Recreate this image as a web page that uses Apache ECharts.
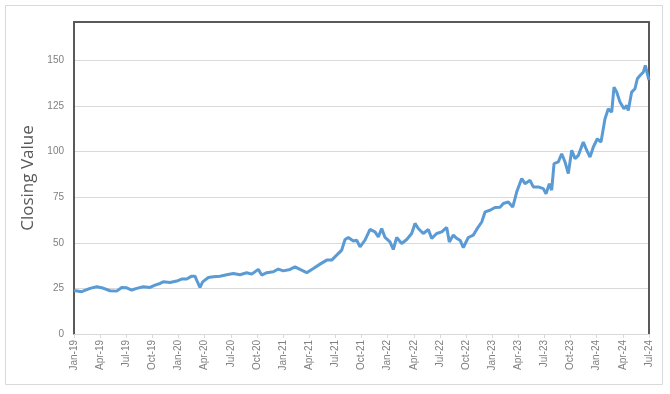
<!DOCTYPE html>
<html>
<head>
<meta charset="utf-8">
<script src="https://cdn.jsdelivr.net/npm/echarts@6/dist/echarts.min.js"></script>
<style>html,body{margin:0;padding:0;background:#fff}#c{width:670px;height:394px}</style>
</head>
<body>
<div id="c"></div>
<script>
// x positions are months since Jan-2019
var monthPos = [0,0.11,0.88,1.84,2.61,3.18,4.13,4.90,5.48,6.05,6.62,7.20,7.95,8.72,9.30,9.87,10.25,11.02,11.79,12.36,12.94,13.51,13.89,14.08,14.46,14.77,15.42,15.99,16.76,17.53,18.29,19.05,19.82,20.40,21.15,21.55,22.12,22.88,23.45,24.02,24.79,25.37,25.94,26.71,27.47,28.24,29.01,29.58,30.15,30.73,31.11,31.49,32.06,32.45,32.83,33.40,33.98,34.55,34.93,35.32,35.70,36.27,36.65,37.04,37.61,38.19,38.76,39.14,39.52,40.09,40.67,41.06,41.63,42.21,42.78,43.08,43.54,43.93,44.31,44.69,45.26,45.83,46.22,46.80,47.18,47.75,48.32,48.90,49.28,49.85,50.36,50.81,51.39,51.77,52.34,52.72,53.29,53.87,54.18,54.56,54.83,55.10,55.59,55.98,56.36,56.74,57.13,57.51,57.89,58.46,58.85,59.23,59.61,60.07,60.49,60.95,61.33,61.72,61.98,62.29,62.67,63.13,63.44,63.62,64.01,64.39,64.66,64.97,65.35,65.58,65.81,66.0];
var closing = [23.8,24.1,23.2,25.0,25.9,25.4,23.7,23.5,25.5,25.3,24.1,25.0,25.9,25.5,26.8,27.7,28.6,28.2,29.0,30.1,30.1,31.7,31.7,29.5,25.5,28.6,31.0,31.4,31.7,32.5,33.2,32.5,33.6,32.8,35.4,32.3,33.6,34.1,35.6,34.6,35.4,36.8,35.4,33.6,35.9,38.3,40.5,40.5,43.2,46.0,51.8,52.9,51.0,51.4,47.8,51.4,57.3,56.0,53.2,57.8,52.9,50.5,46.3,52.9,49.6,51.8,55.1,60.6,57.8,55.1,57.3,52.4,55.1,56.0,58.4,50.5,54.2,52.4,51.4,47.4,52.9,54.2,57.3,61.4,66.9,67.8,69.3,69.5,71.5,72.4,69.6,77.8,85.2,82.4,84.2,80.6,80.6,79.7,76.9,82.4,78.8,93.4,94.3,98.8,94.3,87.9,100.7,96.1,97.9,105.2,100.7,97.0,102.5,107.0,105.2,118.0,123.4,121.6,135.3,132.6,127.1,123.4,125.3,122.5,132.6,134.4,139.9,141.7,143.5,147.2,142.6,139.2];
var tickLabels = ['Jan-19','Apr-19','Jul-19','Oct-19','Jan-20','Apr-20','Jul-20','Oct-20','Jan-21','Apr-21','Jul-21','Oct-21','Jan-22','Apr-22','Jul-22','Oct-22','Jan-23','Apr-23','Jul-23','Oct-23','Jan-24','Apr-24','Jul-24'];
var yTitle = 'Closing Value';

var data = monthPos.map(function(m,i){return [m, closing[i]];});
var chart = echarts.init(document.getElementById('c'), null, {renderer:'canvas'});
chart.setOption({
  animation:false,
  backgroundColor:'#fff',
  graphic:[{type:'rect',shape:{x:5.5,y:5.5,width:657,height:379},style:{fill:'none',stroke:'#d9d9d9',lineWidth:1},z:-1}],
  grid:{left:74,right:21,top:22,bottom:60},
  xAxis:[{
    type:'value',min:0,max:66,interval:3,
    axisLine:{show:true,onZero:false,lineStyle:{color:'#d9d9d9',width:1}},
    axisTick:{show:true,length:4,lineStyle:{color:'#d9d9d9'}},
    splitLine:{show:false},
    axisLabel:{rotate:90,margin:6,fontSize:10,color:'#7f7f7f',fontFamily:'Liberation Sans',
      formatter:function(v){return tickLabels[Math.round(v/3)]||'';}}
  },{
    type:'value',position:'top',min:0,max:66,
    axisLine:{show:true,onZero:false,lineStyle:{color:'#595959',width:2}},
    axisTick:{show:false},axisLabel:{show:false},splitLine:{show:false}
  }],
  yAxis:[{
    type:'value',min:0,max:171,interval:25,
    name:yTitle,nameLocation:'middle',nameGap:33,
    nameTextStyle:{fontSize:17,color:'#595959',fontFamily:'Open Sans'},
    axisLine:{show:true,onZero:false,lineStyle:{color:'#595959',width:2}},
    axisTick:{show:false},
    splitLine:{show:true,lineStyle:{color:'#d9d9d9',width:1}},
    axisLabel:{showMaxLabel:false,fontSize:10,color:'#7f7f7f',margin:10,fontFamily:'Liberation Sans'}
  },{
    type:'value',position:'right',min:0,max:171,
    axisLine:{show:true,onZero:false,lineStyle:{color:'#595959',width:2}},
    axisTick:{show:false},axisLabel:{show:false},splitLine:{show:false}
  }],
  series:[{
    type:'line',data:data,showSymbol:false,xAxisIndex:0,yAxisIndex:0,
    lineStyle:{color:'#5B9BD5',width:3},
    itemStyle:{color:'#5B9BD5'}
  }]
});
</script>
</body>
</html>
